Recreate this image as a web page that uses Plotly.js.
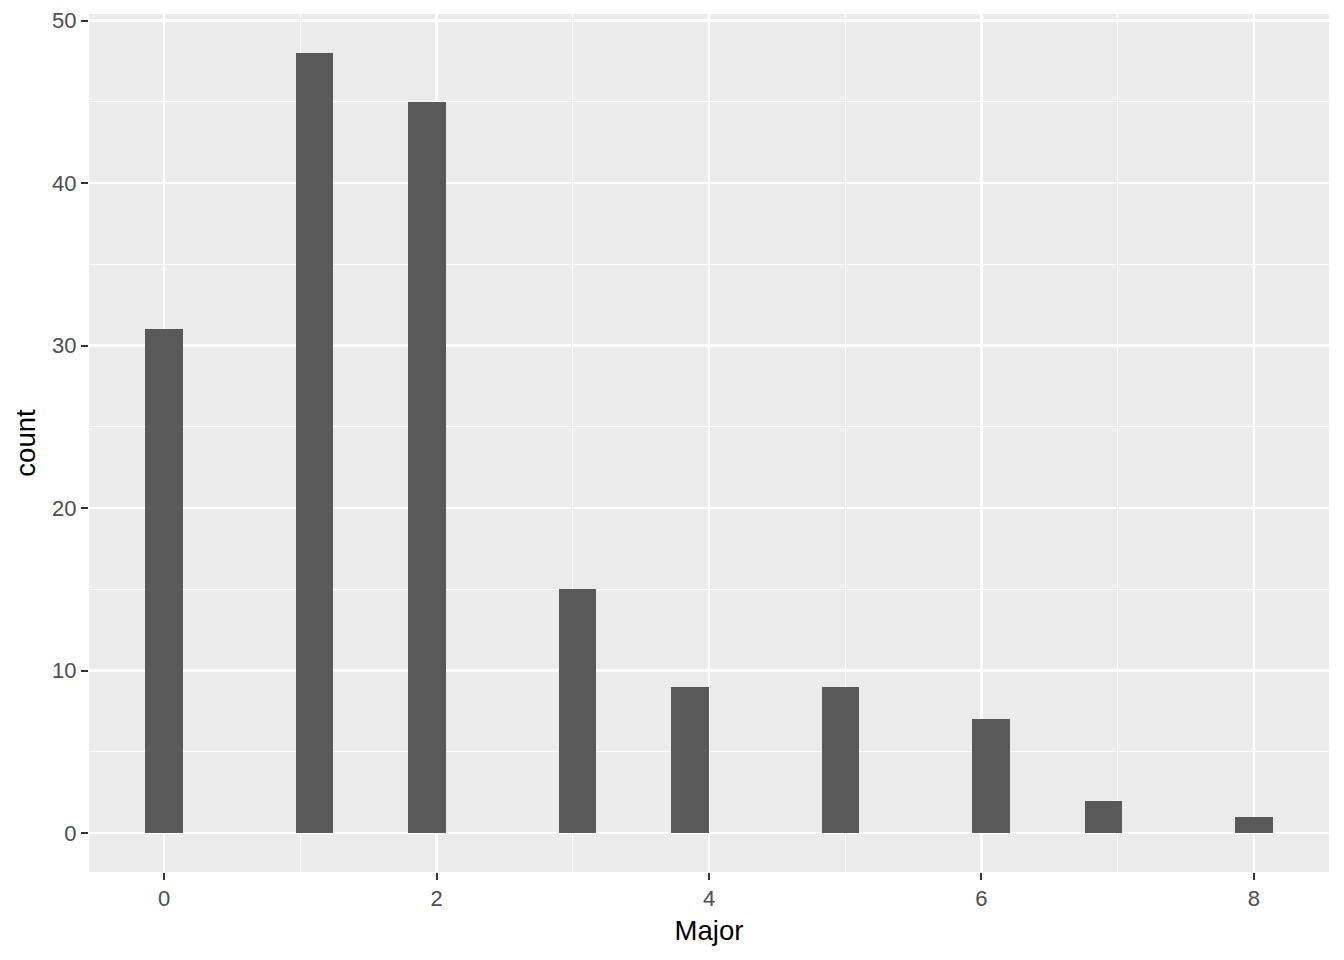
<!DOCTYPE html>
<html>
<head>
<meta charset="utf-8">
<script src="https://cdn.plot.ly/plotly-3.0.1.min.js"></script>
<style>html,body{margin:0;padding:0;background:#fff;}#chart{width:1344px;height:960px;}</style>
</head>
<body>
<div id="chart"></div>
<script>
// Raw values (Major) and their counts
const majorValues = [0, 1, 2, 3, 4, 5, 6, 7, 8];
const majorCounts = [31, 48, 45, 15, 9, 9, 7, 2, 1];
const xTickVals = [0, 2, 4, 6, 8];
const yTickVals = [0, 10, 20, 30, 40, 50];

// ggplot2 geom_histogram default: 30 bins over the data range, right-closed bins
const nBins = 30;
const dataMin = Math.min(...majorValues), dataMax = Math.max(...majorValues);
const binWidth = (dataMax - dataMin) / (nBins - 1);
const firstEdge = dataMin - binWidth / 2;
const binIndex = majorValues.map(v => Math.max(0, Math.ceil((v - firstEdge) / binWidth - 1e-7) - 1));
const binCenters = binIndex.map(i => dataMin + i * binWidth);

const xLo = dataMin - binWidth / 2, xHi = dataMax + binWidth / 2;
const xPad = (xHi - xLo) * 0.05;
const yMax = Math.max(...majorCounts);
const yPad = yMax * 0.05;

const trace = {
  type: 'bar',
  x: binCenters,
  y: majorCounts,
  width: binWidth,
  marker: {color: '#595959', line: {width: 0}},
  hoverinfo: 'x+y'
};

const layout = {
  width: 1344, height: 960,
  margin: {l: 89, r: 15, t: 14, b: 88},
  paper_bgcolor: '#FFFFFF',
  plot_bgcolor: '#EBEBEB',
  showlegend: false,
  bargap: 0,
  font: {family: 'Liberation Sans, Arial, sans-serif'},
  xaxis: {
    range: [xLo - xPad, xHi + xPad],
    tickvals: xTickVals,
    ticktext: xTickVals.map(String),
    ticks: 'outside', ticklen: 7, tickwidth: 2, tickcolor: '#333333',
    tickfont: {size: 22, color: '#4D4D4D'},
    showgrid: true, gridcolor: '#FFFFFF', gridwidth: 2.4,
    minor: {dtick: 1, tick0: 1, showgrid: true, gridcolor: '#FFFFFF', gridwidth: 1.2, ticks: ''},
    zeroline: false, showline: false, automargin: false,
    title: {text: 'Major', font: {size: 27.5, color: '#000000'}, standoff: 10}
  },
  yaxis: {
    range: [-yPad, yMax + yPad],
    tickvals: yTickVals,
    ticktext: yTickVals.map(String),
    ticks: 'outside', ticklen: 7, tickwidth: 2, tickcolor: '#333333',
    tickfont: {size: 22, color: '#4D4D4D'},
    showgrid: true, gridcolor: '#FFFFFF', gridwidth: 2.4,
    minor: {dtick: 10, tick0: 5, showgrid: true, gridcolor: '#FFFFFF', gridwidth: 1.2, ticks: ''},
    zeroline: false, showline: false, automargin: false,
    title: {text: 'count', font: {size: 27.5, color: '#000000'}, standoff: 8}
  }
};

Plotly.newPlot('chart', [trace], layout, {displayModeBar: false, staticPlot: true});
</script>
</body>
</html>
